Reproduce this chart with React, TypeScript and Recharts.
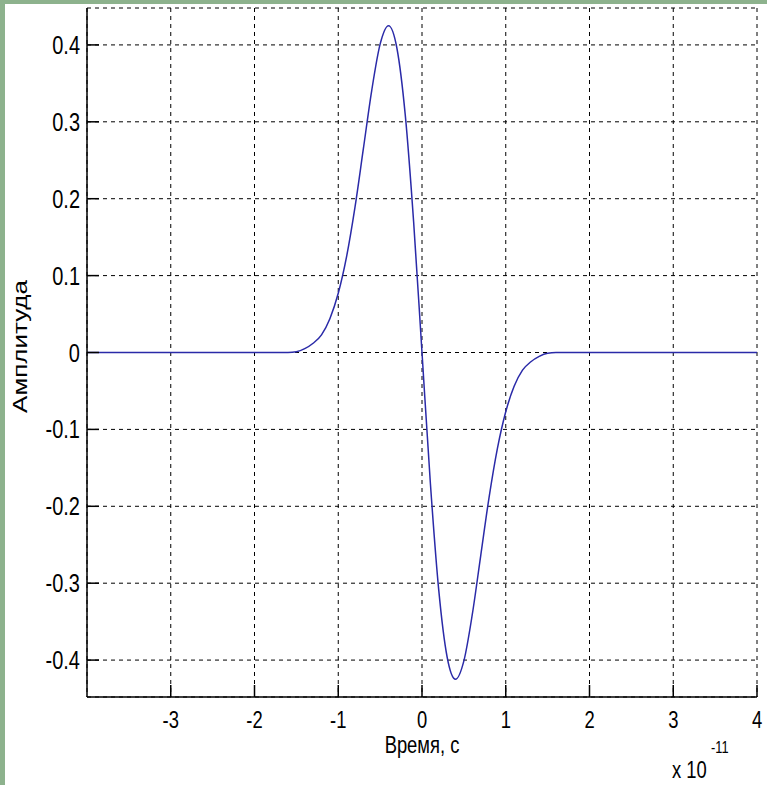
import React from "react";
import { LineChart, Line, XAxis, YAxis, CartesianGrid } from "recharts";

// time in units of 1e-11 s
const TIME = [
  -4, -3.5, -3, -2.5, -2, -1.8, -1.6, -1.5, -1.4, -1.3, -1.2, -1.1, -1.0, -0.9, -0.8, -0.7, -0.6, -0.5,
  -0.4, -0.3, -0.2, -0.1, 0, 0.1, 0.2, 0.3, 0.4, 0.5, 0.6, 0.7, 0.8, 0.9, 1.0, 1.1, 1.2, 1.3, 1.4,
  1.5, 1.6, 1.8, 2, 2.5, 3, 3.5, 4,
];
const AMPLITUDE = [
  0, 0, 0, 0, 0, 0, 0, 0.001, 0.005, 0.012, 0.023, 0.044, 0.077, 0.125, 0.189, 0.265, 0.341, 0.401,
  0.425, 0.396, 0.309, 0.17, 0, -0.17, -0.309, -0.396, -0.425, -0.401, -0.341, -0.265, -0.189, -0.125,
  -0.077, -0.044, -0.023, -0.012, -0.005, -0.001, 0, 0, 0, 0, 0, 0, 0,
];
const X_TICKS = [-3, -2, -1, 0, 1, 2, 3, 4];
const Y_TICKS = [-0.4, -0.3, -0.2, -0.1, 0, 0.1, 0.2, 0.3, 0.4];

const data = TIME.map((t, i) => ({ t, a: AMPLITUDE[i] }));

const FONT = "'Liberation Sans', Arial, sans-serif";
const TICK_LEN = 12;

// condensed Helvetica look: Liberation Sans squeezed horizontally
const NarrowText = ({ x, y, size, anchor = "start", rotate = 0, sx = 0.8, children }: any) => (
  <text
    transform={`translate(${x} ${y}) rotate(${rotate}) scale(${sx} 1)`}
    textAnchor={anchor}
    fontSize={size}
    fontFamily={FONT}
    fill="#000"
  >
    {children}
  </text>
);

const BottomTick = ({ x, y, payload }: any) => (
  <g>
    <line x1={x} y1={y} x2={x} y2={y - TICK_LEN} stroke="#000" strokeWidth={1.5} />
    <NarrowText x={x} y={y + 31} size={23} anchor="middle">
      {payload.value}
    </NarrowText>
  </g>
);

const TopTick = ({ x, y }: any) => (
  <line x1={x} y1={y} x2={x} y2={y + TICK_LEN} stroke="#000" strokeWidth={1.5} />
);

const LeftTick = ({ x, y, payload }: any) => (
  <g>
    <line x1={x} y1={y} x2={x + TICK_LEN} y2={y} stroke="#000" strokeWidth={1.5} />
    <NarrowText x={x - 7} y={y + 9} size={25} anchor="end">
      {payload.value}
    </NarrowText>
  </g>
);

const RightTick = ({ x, y }: any) => (
  <line x1={x} y1={y} x2={x - TICK_LEN} y2={y} stroke="#000" strokeWidth={1.5} />
);

export default function App() {
  return (
    <div style={{ position: "fixed", left: 0, top: 0, width: 767, height: 785, background: "#8db28d" }}>
      <div style={{ position: "absolute", left: 5, top: 4, right: 0, bottom: 0, background: "#fff" }} />
      <div style={{ position: "absolute", left: 0, top: 0 }}>
        <LineChart width={767} height={785} data={data} margin={{ top: 8, right: 10, bottom: 0, left: 0 }}>
          <CartesianGrid stroke="#000" strokeDasharray="4 4" strokeWidth={1} />
          <XAxis
            dataKey="t"
            type="number"
            domain={[-4, 4]}
            ticks={X_TICKS}
            height={88}
            tickSize={0}
            tickMargin={0}
            tickLine={false}
            axisLine={{ stroke: "#000", strokeWidth: 1.5 }}
            tick={<BottomTick />}
            label={{
              content: ({ viewBox }: any) => (
                <NarrowText x={viewBox.x + viewBox.width / 2} y={viewBox.y + 56} size={23} anchor="middle">
                  Время, с
                </NarrowText>
              ),
            }}
          />
          <XAxis
            xAxisId="top"
            orientation="top"
            type="number"
            domain={[-4, 4]}
            ticks={X_TICKS}
            height={0}
            tickSize={0}
            tickMargin={0}
            tickLine={false}
            axisLine={{ stroke: "#000", strokeWidth: 1.5 }}
            tick={<TopTick />}
          />
          <YAxis
            type="number"
            domain={[-0.448, 0.448]}
            ticks={Y_TICKS}
            width={87}
            tickSize={0}
            tickMargin={0}
            tickLine={false}
            axisLine={{ stroke: "#000", strokeWidth: 1.5 }}
            tick={<LeftTick />}
            label={{
              content: ({ viewBox }: any) => (
                <NarrowText
                  x={viewBox.x + 27}
                  y={viewBox.y + viewBox.height / 2 - 6}
                  size={20}
                  sx={1.3}
                  anchor="middle"
                  rotate={-90}
                >
                  Амплитуда
                </NarrowText>
              ),
            }}
          />
          <YAxis
            yAxisId="right"
            orientation="right"
            type="number"
            domain={[-0.448, 0.448]}
            ticks={Y_TICKS}
            width={0}
            tickSize={0}
            tickMargin={0}
            tickLine={false}
            axisLine={{ stroke: "#000", strokeWidth: 1.5 }}
            tick={<RightTick />}
          />
          <Line
            dataKey="a"
            type="monotone"
            stroke="#2a2aa8"
            strokeWidth={1.5}
            dot={false}
            isAnimationActive={false}
          />
        </LineChart>
      </div>
      <svg width={767} height={785} style={{ position: "absolute", left: 0, top: 0, pointerEvents: "none" }}>
        <NarrowText x={672} y={778} size={23}>
          x 10
        </NarrowText>
        <NarrowText x={711} y={753} size={16}>
          -11
        </NarrowText>
      </svg>
    </div>
  );
}
